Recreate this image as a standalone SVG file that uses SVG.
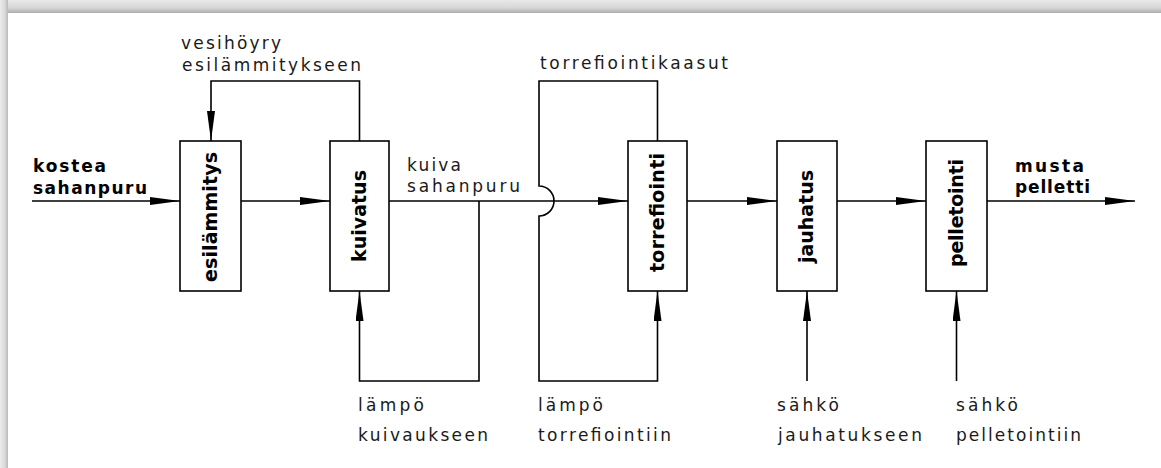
<svg xmlns="http://www.w3.org/2000/svg" width="1161" height="468" viewBox="0 0 1161 468">
  <defs>
    <linearGradient id="gTop" x1="0" y1="0" x2="0" y2="1">
      <stop offset="0" stop-color="#e9e9e9"/>
      <stop offset="0.6" stop-color="#d6d6d6"/>
      <stop offset="1" stop-color="#adadad"/>
    </linearGradient>
    <linearGradient id="gLeft" x1="0" y1="0" x2="1" y2="0">
      <stop offset="0" stop-color="#ececec"/>
      <stop offset="0.6" stop-color="#dadada"/>
      <stop offset="1" stop-color="#b8b8b8"/>
    </linearGradient>
    <marker id="arr" markerUnits="userSpaceOnUse" markerWidth="30" markerHeight="8" refX="30" refY="4" orient="auto" viewBox="0 0 30 8">
      <path d="M0,0 L30,4 L0,8 Z" fill="#000"/>
    </marker>
  </defs>
  <style>
    .box { fill: #fff; stroke: #000; stroke-width: 1.6; }
    .ln { fill: none; stroke: #000; stroke-width: 1.6; }
    .a { marker-end: url(#arr); }
    .lbl { font-family: "DejaVu Sans", "Liberation Sans", sans-serif; font-size: 17px; fill: #1a1a1a; }
    .bl { font-family: "DejaVu Sans", "Liberation Sans", sans-serif; font-size: 17px; font-weight: bold; fill: #000; }
    .nl { font-family: "DejaVu Sans", "Liberation Sans", sans-serif; font-size: 19px; font-weight: bold; fill: #000; text-anchor: middle; }
  </style>

  <!-- frame -->
  <rect x="0" y="0" width="1161" height="468" fill="#dcdcdc"/>
  <rect x="0" y="0" width="1161" height="13" fill="url(#gTop)"/>
  <rect x="0" y="0" width="8" height="468" fill="url(#gLeft)"/>
  <rect x="8" y="13" width="1153" height="455" fill="#fff"/>

  <g id="connectors">
    <path class="ln a" d="M32,201 H180"/>
    <path class="ln a" d="M241,201 H330"/>
    <path class="ln a" d="M389,201 H628"/>
    <path class="ln a" d="M687,201 H777"/>
    <path class="ln a" d="M837,201 H926"/>
    <path class="ln a" d="M987,201 H1135"/>
    <path class="ln a" d="M359.5,141 V81 H211 V141"/>
    <path class="ln a" d="M479,201 V381 H359.5 V291"/>
    <path class="ln a" d="M657.5,141 V81 H539 V186 A15,15 0 0 1 539,216 V381 H657.5 V291"/>
    <path class="ln a" d="M807,381 V291"/>
    <path class="ln a" d="M956.5,381 V291"/>
  </g>

  <g id="esilammitys">
    <rect class="box" x="180" y="141" width="61" height="150"/>
    <text class="nl" transform="translate(216.5,217) rotate(-90)" textLength="130" lengthAdjust="spacing">esilämmitys</text>
  </g>
  <g id="kuivatus">
    <rect class="box" x="330" y="141" width="59" height="150"/>
    <text class="nl" transform="translate(365.5,216) rotate(-90)" textLength="92" lengthAdjust="spacing">kuivatus</text>
  </g>
  <g id="torrefiointi">
    <rect class="box" x="628" y="141" width="59" height="150"/>
    <text class="nl" transform="translate(663.5,212.5) rotate(-90)" textLength="119" lengthAdjust="spacing">torrefiointi</text>
  </g>
  <g id="jauhatus">
    <rect class="box" x="777" y="141" width="60" height="150"/>
    <text class="nl" transform="translate(813,216.5) rotate(-90)" textLength="93" lengthAdjust="spacing">jauhatus</text>
  </g>
  <g id="pelletointi">
    <rect class="box" x="926" y="141" width="61" height="150"/>
    <text class="nl" transform="translate(962.5,213) rotate(-90)" textLength="108" lengthAdjust="spacing">pelletointi</text>
  </g>

  <g id="labels">
    <text class="lbl" x="181" y="49" textLength="100" lengthAdjust="spacing">vesihöyry</text>
    <text class="lbl" x="182" y="71" textLength="179" lengthAdjust="spacing">esilämmitykseen</text>
    <text class="bl" x="33" y="172" textLength="73" lengthAdjust="spacing">kostea</text>
    <text class="bl" x="33" y="194" textLength="114" lengthAdjust="spacing">sahanpuru</text>
    <text class="lbl" x="407" y="171" textLength="54" lengthAdjust="spacing">kuiva</text>
    <text class="lbl" x="407" y="192" textLength="113" lengthAdjust="spacing">sahanpuru</text>
    <text class="lbl" x="540" y="69" textLength="188" lengthAdjust="spacing">torrefiointikaasut</text>
    <text class="bl" x="1015" y="172" textLength="69" lengthAdjust="spacing">musta</text>
    <text class="bl" x="1015" y="193" textLength="75" lengthAdjust="spacing">pelletti</text>
    <text class="lbl" x="358" y="411" textLength="66" lengthAdjust="spacing">lämpö</text>
    <text class="lbl" x="358" y="441" textLength="130" lengthAdjust="spacing">kuivaukseen</text>
    <text class="lbl" x="538" y="411" textLength="65" lengthAdjust="spacing">lämpö</text>
    <text class="lbl" x="538" y="441" textLength="133" lengthAdjust="spacing">torrefiointiin</text>
    <text class="lbl" x="777" y="411" textLength="62" lengthAdjust="spacing">sähkö</text>
    <text class="lbl" x="778" y="441" textLength="144" lengthAdjust="spacing">jauhatukseen</text>
    <text class="lbl" x="956" y="411" textLength="62" lengthAdjust="spacing">sähkö</text>
    <text class="lbl" x="956" y="441" textLength="125" lengthAdjust="spacing">pelletointiin</text>
  </g>
</svg>
